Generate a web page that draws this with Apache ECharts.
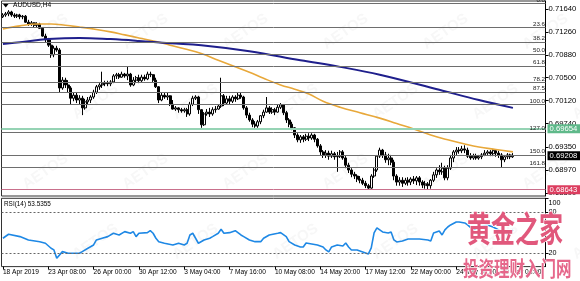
<!DOCTYPE html>
<html><head><meta charset="utf-8">
<script src="https://cdn.jsdelivr.net/npm/echarts@6/dist/echarts.min.js"></script>
<style>html,body{margin:0;padding:0;background:#fff}#c{width:580px;height:281px}</style>
</head><body><div id="c"></div>
<script>
const chartTitle = 'AUDUSD,H4';
const rsiTitle = 'RSI(14) 53.5355';
const tickLabels = ['18 Apr 2019','23 Apr 08:00','26 Apr 00:00','30 Apr 12:00','3 May 04:00','7 May 16:00','10 May 08:00','14 May 20:00','17 May 12:00','22 May 00:00','24 May 16:00','29 May 04:00'];
const tickIndex = [0,16,32,48,64,80,96,112,128,144,160,176];
const slotCount = 192;
const priceTicks = [0.71640,0.71260,0.70880,0.70500,0.70120,0.69740,0.69350,0.68970,0.68590];
const rsiTicks = [100,80,20];
const rsiLevels = [80,20];
const fibLabels = ['0.0','23.6','38.2','50.0','61.8','78.2','87.5','100.0','127.0','150.0','161.8'];
const fibPrices = [0.71731,0.71336,0.71091,0.70894,0.70696,0.70421,0.70265,0.70056,0.69604,0.69219,0.69021];
const greenLevel = 0.69654;
const redLevel = 0.68643;
const lastPrice = 0.69208;
// [open, close, low, high]
const candles = [
[0.7151,0.7154,0.7149,0.7157],[0.7154,0.7156,0.7151,0.7159],[0.7156,0.7159,0.7152,0.7162],[0.7159,0.7154,0.7151,0.7161],
[0.7154,0.7152,0.7149,0.7157],[0.7152,0.7154,0.7149,0.7156],[0.7154,0.7151,0.7147,0.7156],[0.7151,0.7152,0.7147,0.7154],
[0.7152,0.7142,0.7141,0.7154],[0.7142,0.7139,0.7136,0.7146],[0.7139,0.7141,0.7136,0.7144],[0.7141,0.7137,0.7134,0.7142],
[0.7137,0.7139,0.7134,0.7142],[0.7139,0.7132,0.7131,0.7141],[0.7132,0.7119,0.7118,0.7134],[0.7119,0.7113,0.7109,0.7123],
[0.7113,0.7104,0.7101,0.7116],[0.7104,0.7088,0.7083,0.7113],[0.7088,0.7099,0.7084,0.7103],[0.7099,0.7096,0.7093,0.7103],
[0.7096,0.7033,0.7026,0.7099],[0.7033,0.7046,0.7030,0.7051],[0.7046,0.7038,0.7033,0.7050],[0.7038,0.7033,0.7026,0.7046],
[0.7033,0.7016,0.7006,0.7036],[0.7016,0.7021,0.7011,0.7025],[0.7021,0.7013,0.7008,0.7025],[0.7013,0.7016,0.7006,0.7021],
[0.7016,0.7000,0.6988,0.7020],[0.7000,0.7010,0.6997,0.7015],[0.7010,0.7013,0.7006,0.7018],[0.7013,0.7018,0.7008,0.7021],
[0.7018,0.7026,0.7015,0.7030],[0.7026,0.7035,0.7023,0.7038],[0.7035,0.7038,0.7030,0.7041],[0.7038,0.7040,0.7033,0.7060],
[0.7040,0.7041,0.7036,0.7045],[0.7041,0.7040,0.7036,0.7045],[0.7040,0.7043,0.7036,0.7046],[0.7043,0.7053,0.7041,0.7056],
[0.7053,0.7055,0.7048,0.7058],[0.7055,0.7051,0.7048,0.7058],[0.7051,0.7056,0.7050,0.7060],[0.7056,0.7053,0.7050,0.7058],
[0.7053,0.7056,0.7046,0.7069],[0.7056,0.7038,0.7035,0.7058],[0.7038,0.7046,0.7036,0.7051],[0.7046,0.7050,0.7041,0.7053],
[0.7050,0.7045,0.7041,0.7055],[0.7045,0.7051,0.7043,0.7055],[0.7051,0.7048,0.7045,0.7055],[0.7048,0.7056,0.7046,0.7060],
[0.7056,0.7055,0.7051,0.7060],[0.7055,0.7046,0.7043,0.7056],[0.7046,0.7035,0.7033,0.7050],[0.7035,0.7013,0.7008,0.7036],
[0.7013,0.7021,0.7011,0.7026],[0.7021,0.7018,0.7015,0.7025],[0.7018,0.7020,0.7013,0.7025],[0.7020,0.7006,0.7003,0.7021],
[0.7006,0.6998,0.6997,0.7013],[0.6998,0.7000,0.6995,0.7003],[0.7000,0.6997,0.6992,0.7001],[0.6997,0.6995,0.6992,0.7000],
[0.6995,0.6997,0.6992,0.7000],[0.6997,0.6990,0.6985,0.7000],[0.6990,0.7006,0.6987,0.7010],[0.7006,0.7016,0.7003,0.7020],
[0.7016,0.7018,0.7013,0.7021],[0.7018,0.6997,0.6990,0.7020],[0.6997,0.6972,0.6967,0.6998],[0.6972,0.6990,0.6970,0.6993],
[0.6990,0.6993,0.6987,0.6998],[0.6993,0.6990,0.6985,0.7000],[0.6990,0.6997,0.6987,0.7001],[0.6997,0.6998,0.6992,0.7003],
[0.6998,0.7003,0.6997,0.7006],[0.7003,0.7020,0.7000,0.7050],[0.7020,0.7008,0.7003,0.7023],[0.7008,0.7015,0.7005,0.7020],
[0.7015,0.7011,0.7006,0.7020],[0.7011,0.7018,0.7008,0.7021],[0.7018,0.7015,0.7010,0.7021],[0.7015,0.7021,0.7013,0.7025],
[0.7021,0.7018,0.7015,0.7025],[0.7018,0.7000,0.6997,0.7020],[0.7000,0.6988,0.6983,0.7003],[0.6988,0.6980,0.6977,0.6992],
[0.6980,0.6973,0.6968,0.6983],[0.6973,0.6970,0.6967,0.6978],[0.6970,0.6977,0.6967,0.6980],[0.6977,0.6987,0.6973,0.6988],
[0.6987,0.6993,0.6983,0.6997],[0.6993,0.7000,0.6992,0.7018],[0.7000,0.6993,0.6990,0.7003],[0.6993,0.6997,0.6990,0.7001],
[0.6997,0.6993,0.6988,0.7000],[0.6993,0.7001,0.6992,0.7005],[0.7001,0.7005,0.6998,0.7008],[0.7005,0.6992,0.6988,0.7006],
[0.6992,0.6980,0.6975,0.6995],[0.6980,0.6973,0.6968,0.6983],[0.6973,0.6967,0.6963,0.6977],[0.6967,0.6955,0.6950,0.6968],
[0.6955,0.6947,0.6943,0.6958],[0.6947,0.6952,0.6942,0.6955],[0.6952,0.6948,0.6943,0.6955],[0.6948,0.6953,0.6945,0.6957],
[0.6953,0.6950,0.6945,0.6958],[0.6950,0.6955,0.6947,0.6958],[0.6955,0.6948,0.6943,0.6957],[0.6948,0.6937,0.6934,0.6950],
[0.6937,0.6927,0.6922,0.6940],[0.6927,0.6922,0.6917,0.6930],[0.6922,0.6925,0.6917,0.6930],[0.6925,0.6920,0.6914,0.6929],
[0.6920,0.6924,0.6917,0.6929],[0.6924,0.6919,0.6914,0.6927],[0.6919,0.6920,0.6894,0.6927],[0.6920,0.6927,0.6917,0.6930],
[0.6927,0.6917,0.6914,0.6930],[0.6917,0.6905,0.6900,0.6920],[0.6905,0.6897,0.6892,0.6909],[0.6897,0.6890,0.6885,0.6900],
[0.6890,0.6887,0.6882,0.6894],[0.6887,0.6882,0.6877,0.6890],[0.6882,0.6880,0.6875,0.6887],[0.6880,0.6875,0.6872,0.6884],
[0.6875,0.6871,0.6867,0.6879],[0.6871,0.6867,0.6864,0.6874],[0.6867,0.6887,0.6866,0.6890],[0.6887,0.6897,0.6884,0.6902],
[0.6897,0.6920,0.6894,0.6922],[0.6920,0.6930,0.6917,0.6934],[0.6930,0.6922,0.6917,0.6932],[0.6922,0.6914,0.6909,0.6927],
[0.6914,0.6917,0.6905,0.6924],[0.6917,0.6910,0.6905,0.6922],[0.6910,0.6887,0.6880,0.6914],[0.6887,0.6877,0.6871,0.6890],
[0.6877,0.6880,0.6871,0.6885],[0.6880,0.6875,0.6869,0.6885],[0.6875,0.6880,0.6872,0.6884],[0.6880,0.6877,0.6871,0.6885],
[0.6877,0.6882,0.6872,0.6885],[0.6882,0.6879,0.6874,0.6887],[0.6879,0.6884,0.6872,0.6887],[0.6884,0.6877,0.6871,0.6887],
[0.6877,0.6872,0.6867,0.6880],[0.6872,0.6874,0.6866,0.6879],[0.6874,0.6871,0.6864,0.6877],[0.6871,0.6880,0.6866,0.6882],
[0.6880,0.6889,0.6877,0.6894],[0.6889,0.6897,0.6884,0.6900],[0.6897,0.6894,0.6889,0.6905],[0.6894,0.6900,0.6889,0.6909],
[0.6900,0.6884,0.6880,0.6904],[0.6884,0.6900,0.6880,0.6905],[0.6900,0.6917,0.6897,0.6922],[0.6917,0.6927,0.6910,0.6930],
[0.6927,0.6930,0.6922,0.6935],[0.6930,0.6929,0.6924,0.6935],[0.6929,0.6932,0.6925,0.6937],[0.6932,0.6930,0.6925,0.6938],
[0.6930,0.6920,0.6917,0.6934],[0.6920,0.6917,0.6914,0.6925],[0.6917,0.6920,0.6914,0.6924],[0.6920,0.6917,0.6914,0.6924],
[0.6917,0.6919,0.6914,0.6922],[0.6919,0.6922,0.6915,0.6925],[0.6922,0.6925,0.6920,0.6930],[0.6925,0.6927,0.6922,0.6930],
[0.6927,0.6924,0.6920,0.6930],[0.6924,0.6929,0.6920,0.6932],[0.6929,0.6925,0.6919,0.6930],[0.6925,0.6922,0.6917,0.6929],
[0.6922,0.6914,0.6902,0.6925],[0.6914,0.6919,0.6910,0.6922],[0.6919,0.6922,0.6915,0.6925],[0.6922,0.6919,0.6915,0.6924],
[0.6919,0.69208,0.6917,0.6925]
];
// [bar index, value]
const maFast = [[0,0.7131],[6,0.7136],[12,0.7139],[17,0.7139],[22,0.7137],[27,0.7134],[33,0.7130],[38,0.7126],[43,0.7121],[48,0.7116],[54,0.7110],[59,0.7104],[64,0.7098],[70,0.7090],[76,0.7079],[82,0.7068],[87,0.7059],[92,0.7049],[98,0.7038],[103,0.7031],[108,0.7023],[113,0.7011],[119,0.7001],[126,0.6992],[133,0.6983],[139,0.6974],[145,0.6965],[151,0.6955],[157,0.6947],[163,0.6940],[168,0.6935],[174,0.6931],[180,0.6927]];
const maSlow = [[0,0.7106],[6,0.7109],[16,0.7114],[27,0.7116],[38,0.7114],[48,0.7111],[59,0.7107],[70,0.7104],[87,0.7094],[105,0.7079],[119,0.7068],[133,0.7055],[154,0.7030],[168,0.7013],[180,0.7000]];
const rsi = [[0,41.5],[2,47.4],[6,43.9],[9,39.0],[13,36.5],[15,34.2],[17,26.9],[18,24.4],[19,12.2],[21,21.9],[23,19.6],[27,19.6],[28,21.9],[30,26.9],[32,31.7],[33,39.0],[35,41.5],[37,43.9],[39,48.8],[41,46.3],[43,51.2],[45,48.8],[46,51.2],[47,43.9],[48,48.8],[51,49.7],[52,52.6],[53,48.8],[54,41.5],[55,36.5],[57,34.2],[60,31.7],[62,34.2],[64,31.7],[65,34.2],[66,46.3],[67,48.8],[69,34.2],[71,39.0],[73,41.5],[74,43.9],[76,48.8],[77,54.7],[78,48.8],[80,49.7],[82,52.6],[84,46.3],[85,43.9],[87,39.0],[89,36.5],[91,36.5],[92,41.5],[94,46.3],[97,48.8],[98,49.7],[100,43.9],[101,36.5],[103,31.7],[105,28.8],[106,28.8],[107,34.6],[109,33.2],[111,31.7],[113,28.8],[114,24.4],[115,21.5],[116,28.8],[118,31.7],[120,30.2],[121,34.6],[122,28.8],[123,24.4],[125,24.4],[127,21.5],[128,20.0],[129,18.5],[130,27.3],[131,49.3],[132,56.6],[134,50.7],[136,49.3],[137,50.7],[138,39.0],[139,36.1],[141,37.6],[143,40.5],[145,40.5],[147,40.5],[150,39.0],[151,37.6],[152,49.3],[154,52.2],[155,46.3],[156,53.7],[157,58.0],[158,61.0],[160,65.4],[161,65.4],[163,63.9],[164,61.0],[166,53.7],[168,58.0],[171,61.0],[173,58.0],[175,53.7],[176,49.3],[177,50.7],[178,47.8],[180,53.5355]];

const FONT = 'Liberation Sans';
const cats = Array.from({length: slotCount}, (_, i) => String(i));
const showTick = (i) => tickIndex.indexOf(i) >= 0;

const fibMarks = fibPrices.map((p, k) => ({
  yAxis: p,
  lineStyle: {color: '#6e6e6e', width: 1, type: 'solid'},
  label: {show: true, position: 'insideEndTop', formatter: fibLabels[k], fontSize: 6.2, fontFamily: FONT, color: '#222', distance: 0.5}
}));
function boxMark(v, bg, lineColor, lw) {
  return {
    yAxis: v,
    lineStyle: {color: lineColor, width: lw, type: 'solid'},
    label: {show: true, position: 'end', formatter: v.toFixed(5), backgroundColor: bg, color: '#fff',
            fontSize: 7.7, fontFamily: FONT, padding: [1, 3, 0, 2], distance: 2}
  };
}

const wm = [];
for (let r = 0; r < 4; r++) {
  for (let c = 0; c < 6; c++) {
    wm.push({type: 'text', x: 20 + c * 100 + (r % 2) * 50, y: 40 + r * 70, rotation: 0.6, silent: true, z: 50,
      style: {text: 'AETOS', fontSize: 15, fontWeight: 'bold', fontFamily: FONT, fill: 'rgba(120,120,120,0.06)'}});
  }
}

const chart = echarts.init(document.getElementById('c'), null, {renderer: 'canvas'});
chart.setOption({
  animation: false,
  backgroundColor: '#fff',
  grid: [
    {left: 1.5, top: 1, width: 544, height: 195, show: true, borderColor: '#333', borderWidth: 1, outerBoundsMode: 'none', containLabel: false},
    {left: 1.5, top: 198.3, width: 544, height: 68.3, show: true, borderColor: '#333', borderWidth: 1, outerBoundsMode: 'none', containLabel: false}
  ],
  xAxis: [
    {type: 'category', gridIndex: 0, data: cats, boundaryGap: true, axisLine: {show: false}, axisTick: {show: false}, axisLabel: {show: false}, splitLine: {show: false}},
    {type: 'category', gridIndex: 1, data: cats, boundaryGap: true, axisLine: {show: false},
     axisTick: {show: true, interval: showTick, alignWithLabel: true, length: 3, lineStyle: {color: '#000'}},
     axisLabel: {show: true, interval: showTick, align: 'left', margin: 2, fontSize: 6.6, fontFamily: FONT, color: '#000',
                 formatter: (v) => tickLabels[tickIndex.indexOf(+v)]},
     splitLine: {show: false}}
  ],
  yAxis: [
    {type: 'value', gridIndex: 0, position: 'right', min: 0.68539, max: 0.71772, scale: true,
     axisLine: {show: true, lineStyle: {color: '#000'}},
     axisTick: {show: true, length: 3, customValues: priceTicks, lineStyle: {color: '#000'}},
     axisLabel: {show: true, customValues: priceTicks, margin: 3, fontSize: 7.7, fontFamily: FONT, color: '#000', formatter: (v) => v.toFixed(5)},
     splitLine: {show: false}},
    {type: 'value', gridIndex: 1, position: 'right', min: 0, max: 100,
     axisLine: {show: true, lineStyle: {color: '#000'}},
     axisTick: {show: true, length: 3, customValues: rsiTicks, lineStyle: {color: '#000'}},
     axisLabel: {show: true, customValues: rsiTicks, margin: 3, fontSize: 7.2, fontFamily: FONT, color: '#000',
                 formatter: (v) => v === 100 ? '{a|100}' : String(v),
                 rich: {a: {padding: [9, 0, 0, 0], fontSize: 7.2, fontFamily: FONT, color: '#000'}}},
     splitLine: {show: false}}
  ],
  series: [
    {type: 'line', name: 'levels', xAxisIndex: 0, yAxisIndex: 0, data: [], z: 1, showSymbol: false,
     markLine: {silent: true, symbol: 'none', animation: false, precision: 5,
       data: fibMarks.concat([
         boxMark(greenLevel, '#5fb98a', '#95d3b4', 2),
         boxMark(redLevel, '#dc3d5f', '#c9708c', 1),
         boxMark(lastPrice, '#000', 'rgba(0,0,0,0)', 1)
       ])}},
    {type: 'candlestick', xAxisIndex: 0, yAxisIndex: 0, data: candles, barWidth: 2.6, z: 3,
     itemStyle: {color: '#fff', color0: '#000', borderColor: '#000', borderColor0: '#000', borderWidth: 1}},
    {type: 'line', xAxisIndex: 0, yAxisIndex: 0, data: maFast, showSymbol: false, smooth: 0.4, z: 4,
     lineStyle: {color: '#e8a83a', width: 1.6}},
    {type: 'line', xAxisIndex: 0, yAxisIndex: 0, data: maSlow, showSymbol: false, smooth: 0.4, z: 4,
     lineStyle: {color: '#1f1f8c', width: 2}},
    {type: 'line', xAxisIndex: 1, yAxisIndex: 1, data: rsi, showSymbol: false, z: 4,
     lineStyle: {color: '#1e88e5', width: 1.6},
     markLine: {silent: true, symbol: 'none', label: {show: false},
       data: rsiLevels.map(v => ({yAxis: v, lineStyle: {color: '#666', width: 1, type: [2, 2]}}))}}
  ],
  graphic: wm.concat([
    {type: 'polygon', silent: true, z: 60, shape: {points: [[3, 4], [8.5, 4], [5.75, 7.5]]}, style: {fill: '#000'}},
    {type: 'text', left: 13, top: 2, silent: true, z: 60, style: {text: chartTitle, fontSize: 6.6, fontFamily: FONT, fill: '#000'}},
    {type: 'text', left: 4, top: 201, silent: true, z: 60, style: {text: rsiTitle, fontSize: 6.4, fontFamily: FONT, fill: '#000'}},
    {type: 'text', x: 467, y: 211, scaleY: 1.45, silent: true, z: 70, style: {text: '黄金之家', fontSize: 24, fontWeight: 'bold', fontFamily: 'Noto Sans CJK SC', fill: '#e1587c', stroke: '#fff', lineWidth: 1, verticalAlign: 'top'}},
    {type: 'text', x: 463, y: 258, scaleY: 1.35, silent: true, z: 70, style: {text: '投资理财入门网', fontSize: 15.5, fontWeight: 'bold', fontFamily: 'Noto Sans CJK SC', fill: '#e6678b', stroke: '#fff', lineWidth: 0.8, verticalAlign: 'top'}}
  ])
});
</script>
</body></html>
